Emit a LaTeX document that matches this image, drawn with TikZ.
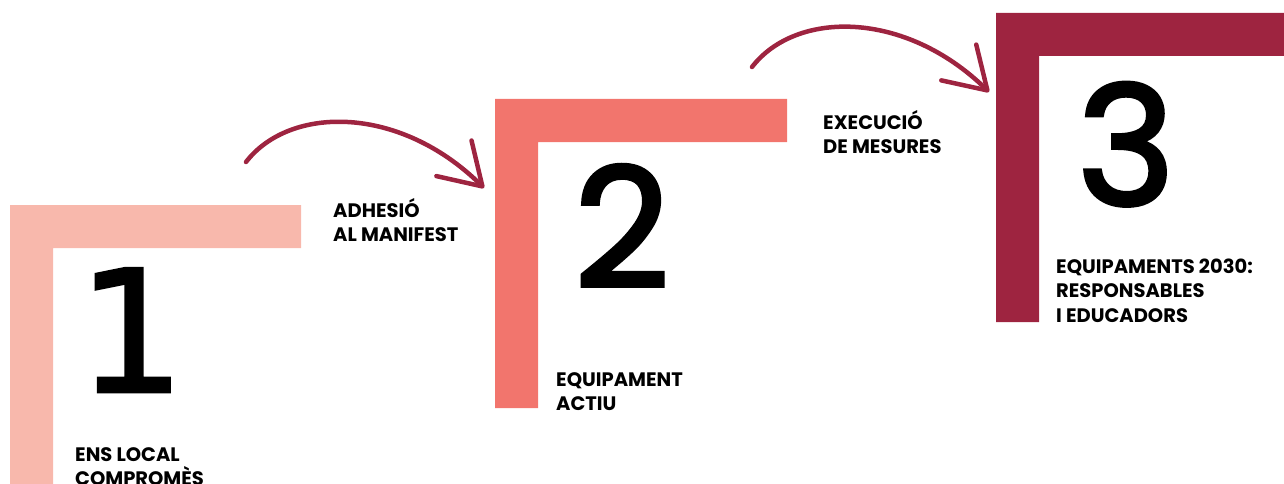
\documentclass[tikz,border=0pt]{standalone}
\usepackage{fontspec}
\setmainfont{Poppins}
\newfontfamily\numfont{Poppins}[FakeBold=2.5]
\newfontfamily\onefont{DejaVu Sans}[FakeBold=1.5]
\usetikzlibrary{arrows.meta,positioning}
\definecolor{stepone}{HTML}{F8B8AC}
\definecolor{steptwo}{HTML}{F2756D}
\definecolor{stepthree}{HTML}{9E2440}

\begin{document}
\begin{tikzpicture}[
  x=1pt, y=-1pt,
  steplabel/.style={anchor=base west, align=left, inner sep=0pt,
                    font=\bfseries\fontsize{19.5}{24.5}\selectfont},
  stepnum/.style={anchor=base west, inner sep=0pt,
                  font=\numfont\fontsize{166}{166}\selectfont},
  flowarrow/.style={draw=stepthree, line width=4.5pt, line cap=round,
                    -{Straight Barb[length=40pt,width=50pt,round]}}
]
  \useasboundingbox (0,0) rectangle (1284,484);
  % the three brackets
  \foreach \x/\y/\w/\b/\c in {10/205/291/484/stepone,495/99/292/408/steptwo,996/13/288/322/stepthree} {
    \fill[\c] (\x,\b) -- (\x,\y) -- ++(\w,0) -- ++(0,43) -- (\x+43,\y+43) -- (\x+43,\b) -- cycle;
  }
  \node[stepnum, font=\onefont\fontsize{170}{170}\selectfont] (n1) at (77,392) {1};
  \node[stepnum] (n2) at (574,287) {2};
  \node[stepnum] (n3) at (1077,205) {3};

  % base of a two-line label is the base of its last line
  \node[steplabel] (t1) at (75,485.5) {ENS LOCAL\\COMPROMÈS};
  \node[steplabel] (t2) at (556,410.5) {EQUIPAMENT\\ACTIU};
  \node[steplabel] (t3) at (1056,322) {EQUIPAMENTS 2030:\\RESPONSABLES\\I EDUCADORS};
  \node[steplabel] (m1) at (333,241.5) {ADHESIÓ\\AL MANIFEST};
  \node[steplabel] (m2) at (823,153.5) {EXECUCIÓ\\DE MESURES};

  \coordinate (a1s) at (246,162);
  \coordinate (a1e) at (484,188);
  \coordinate (a2s) at (752,67);
  \coordinate (a2e) at (989,92);
  \draw[flowarrow] (a1s) .. controls (290,105) and (400,105) .. (a1e);
  \draw[flowarrow] (a2s) .. controls (796,10) and (905,10) .. (a2e);
\end{tikzpicture}
\end{document}
